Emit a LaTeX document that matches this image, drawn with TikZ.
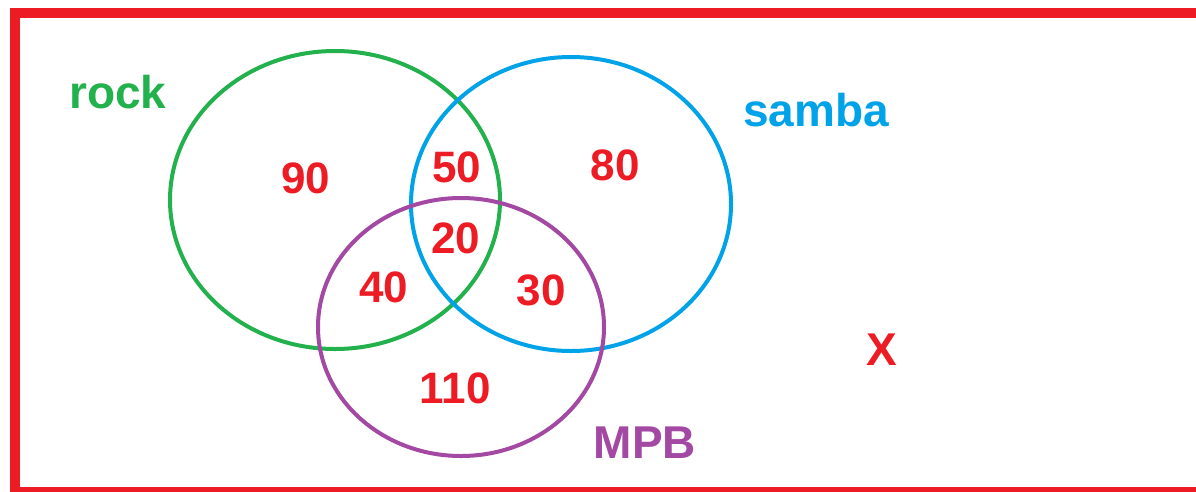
\documentclass[tikz,border=0pt]{standalone}
\usepackage{fontspec}
\setmainfont{Liberation Sans}
\definecolor{pred}{HTML}{ED1C24}
\definecolor{pgreen}{HTML}{22B14C}
\definecolor{pblue}{HTML}{00A2E8}
\definecolor{ppurple}{HTML}{A349A4}
\tikzset{
  setcircle/.style={line width=4pt},
  numlbl/.style={anchor=base, inner sep=0pt, text=pred, font=\fontsize{44}{44}\selectfont\bfseries},
  setlbl/.style={anchor=base, inner sep=0pt, font=\fontsize{46}{46}\selectfont\bfseries},
}
\begin{document}
\begin{tikzpicture}[x=1pt,y=-1pt]
\useasboundingbox (0,0) rectangle (1196,491);
\clip (0,0) rectangle (1196,491);
\fill[white] (0,0) rectangle (1196,491);
\draw[pred, line width=10pt] (15,13) rectangle (1215,492);
% sets
\draw[setcircle, pgreen] (335,200) ellipse [x radius=165, y radius=149];
\draw[setcircle, pblue] (571,204) ellipse [x radius=160, y radius=147];
\draw[setcircle, ppurple] (461,327) ellipse [x radius=143, y radius=129];
% set labels
\node[setlbl, text=pgreen] (lrock) at (118,108) {rock};
\node[setlbl, text=pblue] (lsamba) at (816,126) {samba};
\node[setlbl, text=ppurple] (lmpb) at (645,458) {MPB};
\node[setlbl, text=pred] (lx) at (882,365) {X};
% counts
\node[numlbl] (n90) at (306,193) {90};
\node[numlbl] (n50) at (457,182) {50};
\node[numlbl] (n80) at (615,180) {80};
\node[numlbl] (n20) at (456,253) {20};
\node[numlbl] (n40) at (384,302) {40};
\node[numlbl] (n30) at (541,305) {30};
\node[numlbl] (n110) at (455,403) {110};
\end{tikzpicture}
\end{document}
